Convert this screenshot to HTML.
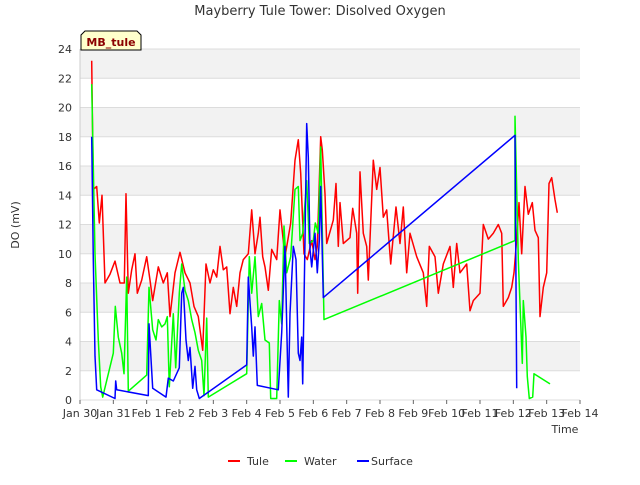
<!DOCTYPE html>
<html><head><meta charset="utf-8"><style>
body{margin:0;background:#fff;}
svg text{font-family:"DejaVu Sans","Liberation Sans",sans-serif;}
</style></head><body>
<svg id="chart" width="640" height="480" viewBox="0 0 640 480">
<text x="320" y="15" text-anchor="middle" font-size="13" fill="#333">Mayberry Tule Tower: Disolved Oxygen</text>
<g id="bands"></g><g id="grid"></g><g id="yticks"></g><g id="xticks"></g>
<g id="series"></g>
<text x="565" y="433" font-size="11" fill="#333" text-anchor="middle">Time</text>
<text transform="translate(19,225) rotate(-90)" font-size="11" fill="#333" text-anchor="middle">DO (mV)</text>
<g>
<polygon points="85,31 137,31 141,35 141,50 81,50 81,35" fill="#ffffcc" stroke="#000" stroke-width="1"/>
<text x="111" y="46" font-size="11" font-weight="bold" fill="#8b0000" text-anchor="middle">MB_tule</text>
</g>
<g>
<g><line x1="228" y1="461" x2="240" y2="461" stroke="#f00" stroke-width="2"/><text x="247" y="465" font-size="11" fill="#333">Tule</text></g>
<g><line x1="285" y1="461" x2="297" y2="461" stroke="#0f0" stroke-width="2"/><text x="304" y="465" font-size="11" fill="#333">Water</text></g>
<g><line x1="357" y1="461" x2="369" y2="461" stroke="#00f" stroke-width="2"/><text x="371" y="465" font-size="11" fill="#333">Surface</text></g>
</g>
</svg>
<script>
const xTickLabels=["Jan 30","Jan 31","Feb 1","Feb 2","Feb 3","Feb 4","Feb 5","Feb 6","Feb 7","Feb 8","Feb 9","Feb 10","Feb 11","Feb 12","Feb 13","Feb 14"];
const yTicks=[0,2,4,6,8,10,12,14,16,18,20,22,24];
const tuleT=[0.35,0.4,0.5,0.58,0.66,0.75,0.9,1.05,1.2,1.33,1.38,1.45,1.55,1.65,1.72,1.85,2.0,2.1,2.18,2.35,2.5,2.62,2.7,2.85,3.0,3.15,3.3,3.42,3.55,3.68,3.78,3.9,4.0,4.1,4.2,4.3,4.4,4.5,4.6,4.7,4.8,4.9,5.05,5.15,5.25,5.35,5.4,5.48,5.55,5.65,5.75,5.9,6.0,6.15,6.32,6.45,6.55,6.62,6.72,6.82,6.95,7.05,7.12,7.22,7.27,7.35,7.4,7.6,7.68,7.75,7.8,7.9,8.1,8.18,8.3,8.33,8.4,8.5,8.6,8.65,8.8,8.9,9.0,9.1,9.2,9.32,9.48,9.6,9.7,9.8,9.9,10.1,10.3,10.4,10.48,10.65,10.75,10.9,11.1,11.2,11.3,11.4,11.6,11.7,11.8,12.0,12.1,12.25,12.4,12.55,12.65,12.7,12.85,12.95,13.02,13.1,13.17,13.25,13.35,13.45,13.57,13.65,13.75,13.8,13.9,14.0,14.07,14.15,14.25,14.32];
const tuleV=[23.2,14.4,14.6,12.1,14,8,8.6,9.5,8,8,14.1,7.3,8.9,10,7.3,8.2,9.8,8.2,6.8,9.1,8,8.7,5.7,8.7,10.1,8.7,8,6.4,5.7,3.4,9.3,8,8.9,8.4,10.5,8.9,9.1,5.9,7.7,6.4,8.7,9.6,10,13,10,11.4,12.5,9.8,9.1,7.5,10.3,9.6,13,9.8,12.1,16.4,17.8,15.5,10,9.6,10.9,9.6,10.5,18,17.1,14.1,10.7,12.3,14.8,10.5,13.5,10.7,11.1,13.1,11.4,7.3,15.6,11.4,10.5,8.2,16.4,14.4,15.9,12.5,13,9.3,13.2,10.7,13.2,8.7,11.4,9.8,8.7,6.4,10.5,9.8,7.3,9.3,10.5,7.7,10.7,8.7,9.3,6.1,6.8,7.3,12,11,11.4,12,11.4,6.4,7,7.7,8.7,11,13.5,10,14.6,12.7,13.5,11.6,11.1,5.7,7.7,8.7,14.8,15.2,13.7,12.8];
const waterT=[0.35,0.45,0.55,0.62,0.68,1.0,1.06,1.15,1.25,1.32,1.4,1.45,2.0,2.07,2.18,2.28,2.35,2.45,2.55,2.62,2.68,2.8,2.87,2.98,3.05,3.15,3.25,3.35,3.45,3.55,3.65,3.72,3.8,3.85,5.0,5.08,5.15,5.25,5.35,5.45,5.55,5.68,5.72,5.9,5.98,6.05,6.12,6.2,6.32,6.45,6.55,6.6,6.68,6.8,6.88,7.0,7.06,7.15,7.22,7.32,13.05,13.05,13.15,13.23,13.27,13.3,13.38,13.42,13.48,13.58,13.62,14.1];
const waterV=[21.6,10,4.1,0.9,0.2,3.2,6.4,4.3,3.2,1.8,8.4,0.6,1.7,7.7,4.8,4.1,5.5,5,5.2,5.7,0.9,5.9,2.2,7.3,9.3,7.5,6.8,5.5,4.6,3.4,2.7,0.3,5.6,0.2,1.8,9.8,7.3,9.8,5.7,6.6,4.1,3.9,0.1,0.1,6.8,5.2,11.9,8.7,9.8,14.4,14.6,10.9,11.4,15,10.7,10.9,12.1,11.4,17.3,5.5,10.9,19.4,9.6,4.8,2.5,6.8,4.3,1.6,0.1,0.2,1.8,1.1];
const surfT=[0.35,0.4,0.45,0.5,1.05,1.07,1.1,2.05,2.07,2.18,2.58,2.65,2.8,2.98,3.05,3.1,3.18,3.25,3.3,3.38,3.45,3.5,3.58,5.0,5.05,5.15,5.2,5.25,5.32,5.95,6.05,6.15,6.25,6.3,6.4,6.48,6.55,6.6,6.65,6.68,6.75,6.8,6.85,6.9,6.95,7.05,7.12,7.18,7.22,7.3,13.05,13.1];
const surfV=[18,9.6,3,0.7,0.1,1.3,0.7,0.3,5.2,0.8,0.2,1.5,1.3,2.2,7.3,7.7,4.1,2.7,3.6,0.8,2.3,0.7,0.1,2.4,8.4,5,3,5,1,0.7,4.6,10.5,0.2,5.9,10.5,9.6,3.2,2.7,4.3,1.1,10.9,18.9,16.6,10.3,9.1,11.4,8.7,10.9,14.6,7,18.1,0.8];
const NS='http://www.w3.org/2000/svg';
const L=80,R=580,T=49,B=400,xMax=15,yMax=24;
const xs=d=>L+(R-L)*d/xMax, ys=v=>B-(B-T)*v/yMax;
function mk(tag,attrs,parent){const e=document.createElementNS(NS,tag);for(const k in attrs)e.setAttribute(k,attrs[k]);parent.appendChild(e);return e;}
const bands=document.getElementById('bands'),grid=document.getElementById('grid'),yt=document.getElementById('yticks'),xt=document.getElementById('xticks');
for(let v=2;v<yMax;v+=4){const r=mk('rect',{x:L,y:ys(v+2),width:R-L,height:ys(v)-ys(v+2),fill:'#f2f2f2'},bands);

}
yTicks.forEach(v=>{const g=mk('line',{x1:L,x2:R,y1:ys(v),y2:ys(v),stroke:'#dcdcdc','stroke-width':1},grid);


const t=mk('text',{x:L-8,y:ys(v)+4,'text-anchor':'end','font-size':11,fill:'#333'},yt);t.textContent=v;

});
xTickLabels.forEach((s,i)=>{mk('line',{x1:xs(i),x2:xs(i),y1:B,y2:B+4,stroke:'#666'},xt);
const t=mk('text',{x:xs(i),y:B+17,'text-anchor':'middle','font-size':11,fill:'#333'},xt);t.textContent=s;

});
mk('line',{x1:L,x2:L,y1:T,y2:B,stroke:'#ccc'},grid);
const ser=document.getElementById('series');
function line(T_,V,c,name){const p=T_.map((d,i)=>xs(d).toFixed(1)+','+ys(V[i]).toFixed(1)).join(' ');
const e=mk('polyline',{points:p,fill:'none',stroke:c,'stroke-width':1.5,'stroke-linejoin':'round'},ser);

}
line(tuleT,tuleV,'#ff0000','tule-line');
line(waterT,waterV,'#00ff00','water-line');
line(surfT,surfV,'#0000ff','surface-line');
</script>
</body></html>
